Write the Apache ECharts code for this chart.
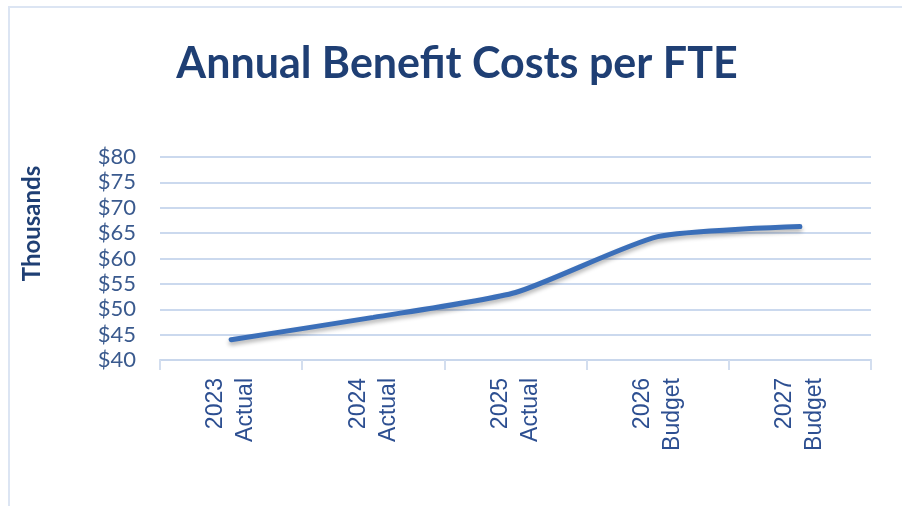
<!DOCTYPE html>
<html>
<head>
<meta charset="utf-8">
<script src="https://cdn.jsdelivr.net/npm/echarts@6/dist/echarts.min.js"></script>
<style>
    html, body { margin: 0; padding: 0; background: #fff; }
    #chart-box {
        position: absolute;
        left: 8px;
        top: 6px;
        width: 894px;
        height: 500px;
        border-left: 2px solid #dce5f3;
        border-top: 2px solid #dce5f3;
    }
</style>
</head>
<body>
<div id="chart-box"></div>
<script>
    // chart data
    var years = ['2023\nActual', '2024\nActual', '2025\nActual', '2026\nBudget', '2027\nBudget'];
    var costs = [44, 48.4, 53.3, 64.3, 66.3];
    var yMin = 40, yMax = 80, yStep = 5;

    var myChart = echarts.init(document.getElementById('chart-box'));

    var option = {
        backgroundColor: '#fff',
        title: {
            text: 'Annual Benefit Costs per FTE',
            left: 'center',
            top: 30,
            textStyle: {
                fontFamily: 'Lato',
                fontSize: 43,
                fontWeight: 'bold',
                color: '#1f3f74'
            }
        },
        grid: {
            left: 150,
            right: 33,
            top: 149,
            bottom: 148
        },
        xAxis: {
            type: 'category',
            data: years,
            boundaryGap: true,
            axisLine: { lineStyle: { color: '#c9d7ec', width: 2 } },
            axisTick: { show: true, interval: 0, length: 10, lineStyle: { color: '#d3deef', width: 2 } },
            axisLabel: {
                rotate: 90,
                interval: 0,
                margin: 18,
                fontFamily: 'Liberation Sans',
                fontSize: 23,
                lineHeight: 30,
                color: '#2d4f91'
            },
            splitLine: { show: false }
        },
        yAxis: {
            type: 'value',
            min: yMin,
            max: yMax,
            interval: yStep,
            name: 'Thousands',
            nameLocation: 'middle',
            nameRotate: 90,
            nameGap: 116,
            nameTextStyle: {
                fontFamily: 'Lato',
                fontSize: 24,
                fontWeight: 'bold',
                color: '#1f3f74',
                padding: [0, 0, 0, 70]
            },
            axisLine: { show: false },
            axisTick: { show: false },
            axisLabel: {
                formatter: '${value}',
                margin: 24,
                fontFamily: 'Lato',
                fontSize: 22,
                color: '#3a5a8e'
            },
            splitLine: { lineStyle: { color: '#cbd9ee', width: 2 } }
        },
        series: [
            {
                name: 'Cost per FTE',
                type: 'line',
                data: costs,
                smooth: 0.2,
                symbol: 'none',
                lineStyle: {
                    color: '#3b6fb9',
                    width: 5,
                    cap: 'round',
                    shadowColor: 'rgba(0,0,0,0.3)',
                    shadowBlur: 4,
                    shadowOffsetY: 3
                }
            }
        ]
    };

    myChart.setOption(option, true);
</script>
</body>
</html>
